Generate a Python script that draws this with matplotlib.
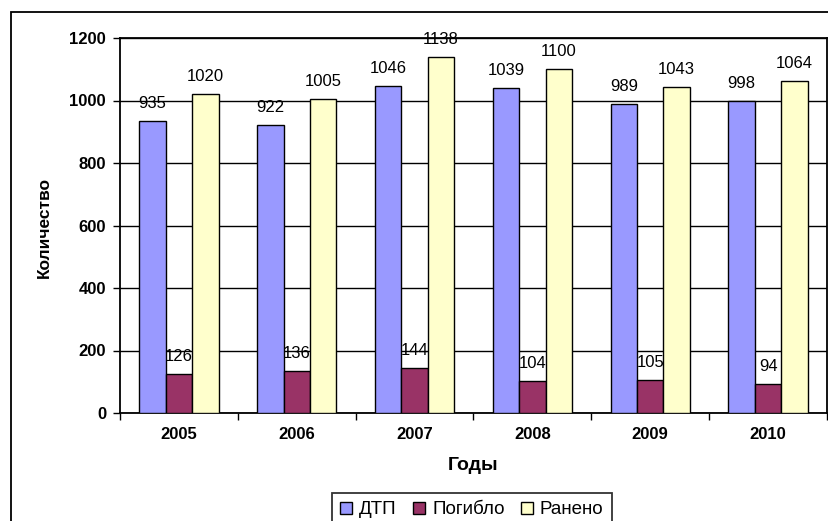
import matplotlib
matplotlib.use("Agg")
import matplotlib.pyplot as plt
import numpy as np
from matplotlib.patches import Rectangle

years = ["2005", "2006", "2007", "2008", "2009", "2010"]
dtp = [935, 922, 1046, 1039, 989, 998]
pogiblo = [126, 136, 144, 104, 105, 94]
raneno = [1020, 1005, 1138, 1100, 1043, 1064]
series_names = ["ДТП", "Погибло", "Ранено"]
colors = ["#9999FF", "#993366", "#FFFFCC"]

plt.rcParams["font.family"] = ["Liberation Sans", "DejaVu Sans"]

W, H = 829, 521
fig = plt.figure(figsize=(W / 100, H / 100), dpi=100)
ax = fig.add_axes([120 / W, 1 - 413 / H, (827 - 120) / W, (413 - 38) / H])

# outer chart frame (cut off at right and bottom)
fig.patches.append(Rectangle((11 / W, -0.1), 1.0, 1 - 12 / H + 0.1, transform=fig.transFigure,
                             fill=False, edgecolor="black", linewidth=1.3))

x = np.arange(len(years))
bw = 0.224
for i, (vals, name, col) in enumerate(zip([dtp, pogiblo, raneno], series_names, colors)):
    pos = x + (i - 1) * bw
    ax.bar(pos, vals, width=bw, color=col, edgecolor="black", linewidth=1.0, label=name, zorder=3)
    for px, v in zip(pos, vals):
        ax.text(px, v + 56, str(v), ha="center", va="center", fontsize=12, zorder=4)

ax.set_xlim(-0.5, len(years) - 0.5)
ax.set_ylim(0, 1200)
ax.set_yticks(range(0, 1201, 200))
ax.yaxis.grid(True, color="black", linewidth=1.0, zorder=0)
ax.set_axisbelow(True)
ax.set_xticks(x)
ax.set_xticklabels(years, fontsize=12, fontweight="bold")
ax.set_xticks(np.arange(-0.5, len(years), 1.0), minor=True)
ax.tick_params(axis="x", which="major", length=0, pad=10)
ax.tick_params(axis="x", which="minor", length=5, width=1, direction="out")
ax.tick_params(axis="y", length=5, width=1, direction="out", pad=5)
for lbl in ax.get_yticklabels():
    lbl.set_fontsize(12)
    lbl.set_fontweight("bold")
for sp in ax.spines.values():
    sp.set_linewidth(1.3)
    sp.set_color("black")

ax.set_xlabel("Годы", fontsize=14, fontweight="bold")
ax.xaxis.set_label_coords(0.5, -(465 - 413) / 375)
ax.set_ylabel("Количество", fontsize=12.5, fontweight="bold")
ax.yaxis.set_label_coords(-(120 - 44) / 707, (413 - 227) / 375)
ax.xaxis.label.set_va("center")
ax.yaxis.label.set_va("center")

# legend box runs past the bottom edge like in the original
leg = fig.legend(loc="upper center", bbox_to_anchor=(472 / W, 1 - 493 / H), ncol=3,
                 fontsize=13.5, frameon=True, fancybox=False, edgecolor="black",
                 handlelength=0.64, handleheight=0.64, handletextpad=0.35, columnspacing=0.9,
                 borderpad=0.45, borderaxespad=0)
leg.get_frame().set_linewidth(1.3)

fig.savefig("out.png", dpi=100)
